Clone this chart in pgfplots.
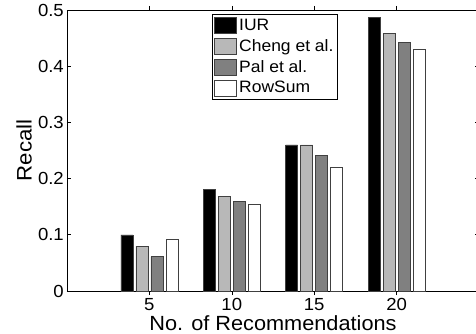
\documentclass[border=0pt]{standalone}
\usepackage{pgfplots}
\pgfplotsset{compat=1.18}
\usepackage{fontspec}
\setmainfont{Liberation Sans}[FakeStretch=1.06]
\definecolor{lgray}{HTML}{B8B8B8}
\definecolor{dgray}{HTML}{808080}
\begin{document}
\begin{tikzpicture}
\begin{axis}[
  name=ax,
  scale only axis,
  width=412pt, height=281pt,
  xmin=0, xmax=5, ymin=0, ymax=0.5,
  xtick={1,2,3,4}, xticklabels={5,10,15,20},
  ytick={0,0.1,0.2,0.3,0.4,0.5}, yticklabels={0,0.1,0.2,0.3,0.4,0.5},
  tick align=inside, major tick length=4pt,
  tick style={black, line width=0.6pt},
  axis line style={black, line width=0.9pt},
  /pgf/number format/assume math mode=true,
  tick label style={font=\fontsize{17.5}{20}\selectfont, inner sep=0pt},
  yticklabel style={anchor=east, xshift=-3pt},
  xticklabel style={anchor=north, yshift=-3.5pt},
  xlabel={No. of Recommendations},
  ylabel={Recall},
  xlabel style={font=\fontsize{20.5}{24}\selectfont, at={(axis description cs:0.5,0)}, anchor=north, inner sep=0pt, yshift=-24.5pt},
  ylabel style={font=\fontsize{21}{24}\selectfont, at={(axis description cs:-0.085,0.5)}, rotate=0, anchor=south, inner sep=0pt},
  ybar, bar width=0.145,
  every axis plot/.append style={draw=black!75, line width=0.5pt},
  legend image code/.code={\draw[#1, line width=0.7pt] (0pt,-8pt) rectangle (22pt,8pt);},
  legend style={at={(0.352,0.986)}, anchor=north west, draw=black, line width=0.9pt,
    font=\fontsize{16.5}{19}\selectfont, inner xsep=2pt, inner ysep=2.5pt, row sep=3.6pt,
    /tikz/every even column/.append style={column sep=0pt}},
  legend cell align=left,
]
\addplot[fill=black, bar shift=-0.273] coordinates {(1,0.100) (2,0.181) (3,0.260) (4,0.4875)};
\addplot[fill=lgray, bar shift=-0.091] coordinates {(1,0.080) (2,0.169) (3,0.260) (4,0.459)};
\addplot[fill=dgray, bar shift=0.091] coordinates {(1,0.061) (2,0.160) (3,0.241) (4,0.443)};
\addplot[fill=white, bar shift=0.273] coordinates {(1,0.092) (2,0.154) (3,0.220) (4,0.430)};
\legend{IUR, Cheng et al., Pal et al., RowSum}
\coordinate (sw) at (rel axis cs:0,0);
\end{axis}
\pgfresetboundingbox
\path[use as bounding box] ([shift={(-67pt,-43pt)}]sw) rectangle ([shift={(409pt,291pt)}]sw);
\end{tikzpicture}
\end{document}
